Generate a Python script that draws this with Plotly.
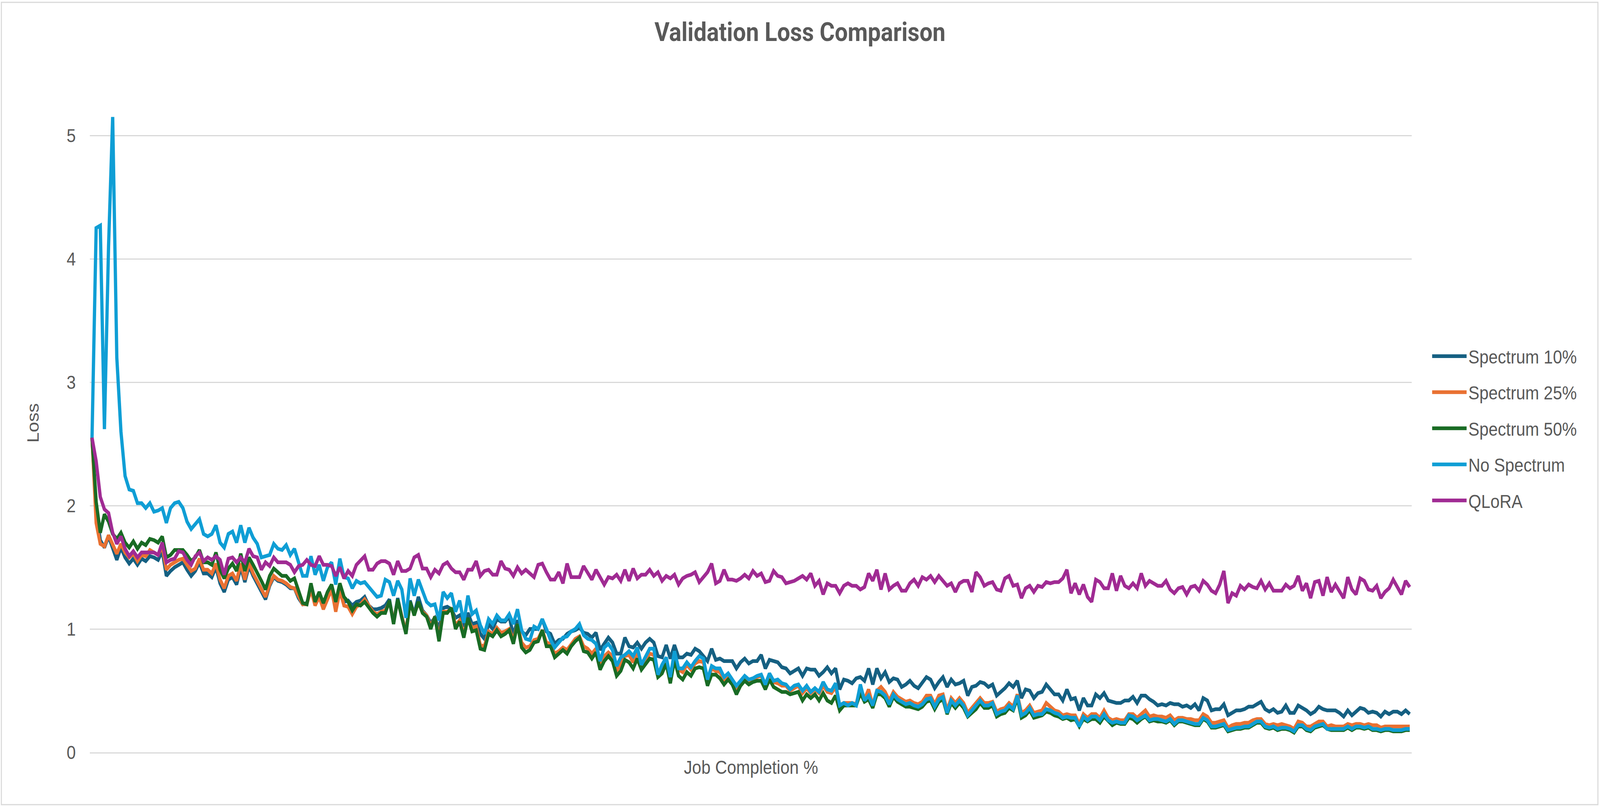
import plotly.graph_objects as go

# ---------------- data ----------------
steps = list(range(1, 321))  # evaluation points along "Job Completion %"

spectrum_10 = [
    2.55, 1.95, 1.72, 1.66, 1.75, 1.66, 1.56, 1.66, 1.58, 1.53,
    1.57, 1.52, 1.57, 1.55, 1.59, 1.58, 1.56, 1.63, 1.43, 1.47,
    1.50, 1.52, 1.54, 1.48, 1.43, 1.47, 1.54, 1.45, 1.45, 1.42,
    1.50, 1.37, 1.30, 1.40, 1.42, 1.36, 1.50, 1.38, 1.51, 1.43,
    1.37, 1.30, 1.24, 1.35, 1.42, 1.39, 1.38, 1.36, 1.33, 1.33,
    1.25, 1.20, 1.21, 1.32, 1.20, 1.28, 1.18, 1.27, 1.33, 1.17,
    1.32, 1.22, 1.23, 1.19, 1.22, 1.23,
    1.26, 1.19, 1.16, 1.16, 1.17, 1.19, 1.24, 1.05, 1.25, 1.10,
    0.98, 1.23, 1.12, 1.26, 1.15, 1.11, 1.05, 1.09, 1.00, 1.17,
    1.18, 1.16, 1.09, 1.11, 1.02, 1.13, 1.04, 1.05, 0.96, 0.92,
    1.04, 1.00, 1.08, 1.06, 1.06, 1.10, 0.95, 1.07, 0.98, 0.95,
    1.00, 1.00, 1.00, 1.08, 0.98, 0.96, 0.88, 0.91, 0.92, 0.96,
    0.98, 0.99, 1.01, 0.97, 0.96, 0.93, 0.97, 0.83, 0.88, 0.93,
    0.89, 0.80,
    0.80, 0.93, 0.86, 0.85, 0.89, 0.84, 0.89, 0.92, 0.89, 0.78,
    0.77, 0.87, 0.76, 0.87, 0.77, 0.77, 0.80, 0.79, 0.84, 0.82,
    0.78, 0.74, 0.84, 0.75, 0.76, 0.74, 0.74, 0.74, 0.68, 0.73,
    0.76, 0.72, 0.74, 0.74, 0.79, 0.68, 0.75, 0.74, 0.73, 0.69,
    0.68, 0.64, 0.66, 0.68, 0.62, 0.68, 0.67, 0.67, 0.62, 0.65,
    0.69, 0.64, 0.68, 0.51, 0.59, 0.58, 0.56, 0.60, 0.61, 0.58,
    0.68, 0.55, 0.68,
    0.60, 0.65, 0.57, 0.60, 0.59, 0.53, 0.55, 0.58, 0.54, 0.52,
    0.56, 0.61, 0.59, 0.52, 0.57, 0.61, 0.53, 0.59, 0.55, 0.56,
    0.58, 0.46, 0.53, 0.54, 0.57, 0.56, 0.53, 0.55, 0.46, 0.49,
    0.52, 0.56, 0.53, 0.58, 0.44, 0.51, 0.50, 0.44, 0.48, 0.49,
    0.55, 0.51, 0.47, 0.47, 0.42, 0.51, 0.43, 0.44, 0.34, 0.44,
    0.38, 0.38, 0.47, 0.44, 0.48, 0.42, 0.41, 0.40, 0.40, 0.42,
    0.42, 0.45, 0.40,
    0.46, 0.46, 0.43, 0.41, 0.38, 0.39, 0.38, 0.40, 0.39, 0.39,
    0.37, 0.38, 0.36, 0.39, 0.34, 0.44, 0.42, 0.34, 0.35, 0.35,
    0.39, 0.30, 0.32, 0.34, 0.34, 0.35, 0.37, 0.37, 0.39, 0.41,
    0.35, 0.33, 0.35, 0.32, 0.33, 0.38, 0.32, 0.32, 0.38, 0.36,
    0.34, 0.31, 0.33, 0.37, 0.35, 0.34, 0.34, 0.34, 0.32, 0.29,
    0.34, 0.30, 0.33, 0.36, 0.35, 0.32, 0.33, 0.32, 0.29, 0.33,
    0.31, 0.33, 0.33, 0.31, 0.34, 0.31,
]

spectrum_25 = [
    2.55, 1.86, 1.69, 1.67, 1.76, 1.69, 1.61, 1.69, 1.62, 1.58,
    1.61, 1.55, 1.60, 1.59, 1.64, 1.62, 1.60, 1.67, 1.48, 1.52,
    1.54, 1.56, 1.57, 1.52, 1.47, 1.49, 1.57, 1.48, 1.48, 1.45,
    1.53, 1.40, 1.33, 1.43, 1.45, 1.39, 1.53, 1.40, 1.54, 1.45,
    1.39, 1.32, 1.26, 1.36, 1.43, 1.40, 1.39, 1.37, 1.34, 1.33,
    1.26, 1.20, 1.20, 1.32, 1.19, 1.26, 1.16, 1.24, 1.32, 1.14,
    1.31, 1.19, 1.18, 1.12, 1.18, 1.20,
    1.24, 1.19, 1.14, 1.12, 1.14, 1.15, 1.22, 1.06, 1.23, 1.10,
    0.98, 1.21, 1.12, 1.21, 1.14, 1.11, 1.02, 1.10, 0.93, 1.14,
    1.14, 1.16, 1.03, 1.07, 0.96, 1.08, 1.01, 1.02, 0.87, 0.86,
    0.98, 0.96, 1.01, 0.97, 0.98, 1.00, 0.91, 1.04, 0.89, 0.85,
    0.86, 0.91, 0.92, 0.99, 0.89, 0.88, 0.80, 0.82, 0.85, 0.83,
    0.88, 0.92, 0.94, 0.86, 0.84, 0.80, 0.84, 0.71, 0.78, 0.81,
    0.78, 0.66,
    0.72, 0.78, 0.79, 0.73, 0.81, 0.70, 0.75, 0.80, 0.79, 0.62,
    0.68, 0.75, 0.58, 0.79, 0.67, 0.65, 0.71, 0.67, 0.72, 0.74,
    0.73, 0.58, 0.68, 0.66, 0.65, 0.59, 0.62, 0.58, 0.52, 0.57,
    0.61, 0.58, 0.59, 0.61, 0.62, 0.54, 0.62, 0.57, 0.56, 0.54,
    0.54, 0.50, 0.52, 0.54, 0.48, 0.52, 0.48, 0.51, 0.48, 0.54,
    0.49, 0.48, 0.53, 0.38, 0.40, 0.40, 0.40, 0.39, 0.53, 0.43,
    0.51, 0.38, 0.50,
    0.53, 0.49, 0.42, 0.49, 0.45, 0.43, 0.41, 0.42, 0.40, 0.39,
    0.41, 0.46, 0.46, 0.39, 0.46, 0.47, 0.34, 0.44, 0.40, 0.44,
    0.40, 0.32, 0.36, 0.39, 0.44, 0.40, 0.40, 0.41, 0.33, 0.35,
    0.36, 0.40, 0.37, 0.47, 0.32, 0.34, 0.38, 0.32, 0.33, 0.34,
    0.40, 0.37, 0.34, 0.33, 0.30, 0.31, 0.30, 0.30, 0.23, 0.31,
    0.28, 0.31, 0.31, 0.28, 0.34, 0.28, 0.26, 0.27, 0.26, 0.26,
    0.31, 0.31, 0.28,
    0.31, 0.34, 0.29, 0.30, 0.29, 0.29, 0.28, 0.30, 0.26, 0.28,
    0.28, 0.27, 0.27, 0.26, 0.26, 0.31, 0.29, 0.24, 0.24, 0.25,
    0.26, 0.20, 0.22, 0.23, 0.23, 0.24, 0.24, 0.26, 0.27, 0.27,
    0.23, 0.22, 0.23, 0.22, 0.23, 0.22, 0.21, 0.19, 0.25, 0.24,
    0.21, 0.21, 0.23, 0.25, 0.25, 0.21, 0.22, 0.21, 0.21, 0.21,
    0.23, 0.22, 0.23, 0.23, 0.22, 0.23, 0.22, 0.22, 0.20, 0.21,
    0.21, 0.21, 0.21, 0.21, 0.21, 0.21,
]

spectrum_50 = [
    2.55, 2.03, 1.78, 1.93, 1.87, 1.77, 1.73, 1.78, 1.70, 1.66,
    1.71, 1.65, 1.70, 1.68, 1.73, 1.72, 1.70, 1.75, 1.58, 1.60,
    1.64, 1.64, 1.64, 1.60, 1.55, 1.58, 1.64, 1.54, 1.54, 1.52,
    1.62, 1.48, 1.41, 1.49, 1.53, 1.47, 1.61, 1.47, 1.58, 1.52,
    1.46, 1.39, 1.32, 1.43, 1.49, 1.46, 1.43, 1.43, 1.39, 1.41,
    1.30, 1.21, 1.20, 1.37, 1.22, 1.30, 1.21, 1.30, 1.36, 1.22,
    1.37, 1.26, 1.22, 1.15, 1.20, 1.19,
    1.22, 1.17, 1.13, 1.10, 1.13, 1.13, 1.23, 1.04, 1.24, 1.09,
    0.96, 1.22, 1.11, 1.22, 1.13, 1.10, 1.00, 1.10, 0.90, 1.13,
    1.13, 1.17, 1.00, 1.06, 0.93, 1.09, 0.98, 0.99, 0.84, 0.83,
    0.96, 0.94, 0.99, 0.94, 0.96, 0.99, 0.88, 1.04, 0.85, 0.81,
    0.83, 0.89, 0.90, 0.99, 0.86, 0.86, 0.77, 0.80, 0.83, 0.80,
    0.86, 0.90, 0.93, 0.82, 0.81, 0.76, 0.81, 0.67, 0.74, 0.78,
    0.74, 0.62,
    0.66, 0.75, 0.73, 0.68, 0.76, 0.67, 0.72, 0.76, 0.75, 0.61,
    0.64, 0.72, 0.56, 0.75, 0.62, 0.59, 0.65, 0.62, 0.68, 0.69,
    0.68, 0.54, 0.63, 0.63, 0.60, 0.55, 0.59, 0.55, 0.47, 0.54,
    0.58, 0.55, 0.57, 0.58, 0.58, 0.51, 0.59, 0.53, 0.51, 0.49,
    0.49, 0.47, 0.48, 0.49, 0.42, 0.47, 0.44, 0.47, 0.42, 0.48,
    0.42, 0.40, 0.46, 0.34, 0.38, 0.38, 0.38, 0.38, 0.48, 0.41,
    0.43, 0.36, 0.47,
    0.47, 0.44, 0.37, 0.45, 0.41, 0.39, 0.37, 0.37, 0.36, 0.35,
    0.37, 0.41, 0.42, 0.35, 0.41, 0.43, 0.31, 0.40, 0.36, 0.40,
    0.36, 0.29, 0.32, 0.35, 0.40, 0.36, 0.36, 0.38, 0.29, 0.31,
    0.32, 0.36, 0.34, 0.44, 0.28, 0.30, 0.34, 0.28, 0.29, 0.30,
    0.33, 0.32, 0.30, 0.29, 0.27, 0.28, 0.26, 0.27, 0.21, 0.27,
    0.25, 0.27, 0.27, 0.24, 0.29, 0.25, 0.22, 0.24, 0.23, 0.23,
    0.28, 0.27, 0.24,
    0.27, 0.29, 0.25, 0.26, 0.25, 0.25, 0.24, 0.26, 0.22, 0.25,
    0.25, 0.24, 0.23, 0.22, 0.22, 0.27, 0.25, 0.20, 0.20, 0.21,
    0.22, 0.17, 0.18, 0.19, 0.19, 0.20, 0.20, 0.22, 0.24, 0.24,
    0.20, 0.19, 0.20, 0.18, 0.19, 0.19, 0.18, 0.16, 0.21, 0.21,
    0.18, 0.17, 0.20, 0.21, 0.22, 0.19, 0.18, 0.18, 0.18, 0.18,
    0.20, 0.18, 0.20, 0.20, 0.19, 0.20, 0.18, 0.18, 0.17, 0.18,
    0.18, 0.17, 0.17, 0.17, 0.18, 0.18,
]

no_spectrum = [
    2.55, 4.25, 4.27, 2.62, 4.10, 5.15, 3.20, 2.60, 2.24, 2.13,
    2.12, 2.02, 2.02, 1.98, 2.02, 1.95, 1.96, 1.98, 1.86, 1.98,
    2.02, 2.03, 1.98, 1.87, 1.81, 1.85, 1.89, 1.77, 1.75, 1.77,
    1.84, 1.70, 1.66, 1.77, 1.79, 1.70, 1.84, 1.70, 1.82, 1.74,
    1.69, 1.58, 1.59, 1.60, 1.69, 1.65, 1.64, 1.68, 1.60, 1.65,
    1.54, 1.43, 1.43, 1.59, 1.44, 1.52, 1.39, 1.50, 1.54, 1.36,
    1.57, 1.42, 1.41, 1.33, 1.39, 1.37,
    1.38, 1.34, 1.30, 1.26, 1.27, 1.40, 1.38, 1.27, 1.39, 1.32,
    1.09, 1.41, 1.27, 1.40, 1.31, 1.22, 1.19, 1.20, 1.07, 1.30,
    1.25, 1.29, 1.14, 1.23, 1.05, 1.27, 1.12, 1.15, 1.03, 0.96,
    1.08, 1.04, 1.11, 1.07, 1.07, 1.12, 1.04, 1.16, 0.99, 0.92,
    0.91, 1.02, 1.00, 1.08, 1.00, 0.91, 0.85, 0.89, 0.93, 0.94,
    0.98, 1.00, 1.04, 0.95, 0.92, 0.91, 0.88, 0.74, 0.85, 0.88,
    0.83, 0.70,
    0.77, 0.79, 0.82, 0.78, 0.85, 0.71, 0.77, 0.84, 0.84, 0.63,
    0.71, 0.77, 0.61, 0.82, 0.68, 0.68, 0.73, 0.69, 0.74, 0.78,
    0.76, 0.59, 0.70, 0.68, 0.68, 0.61, 0.64, 0.59, 0.54, 0.58,
    0.62, 0.59, 0.60, 0.62, 0.63, 0.55, 0.64, 0.58, 0.59, 0.56,
    0.55, 0.51, 0.54, 0.55, 0.50, 0.54, 0.49, 0.52, 0.49, 0.57,
    0.51, 0.50, 0.56, 0.38, 0.40, 0.38, 0.40, 0.38, 0.55, 0.42,
    0.46, 0.38, 0.50,
    0.49, 0.46, 0.39, 0.47, 0.43, 0.41, 0.39, 0.40, 0.38, 0.37,
    0.39, 0.43, 0.44, 0.37, 0.43, 0.45, 0.32, 0.42, 0.38, 0.42,
    0.38, 0.30, 0.34, 0.37, 0.42, 0.38, 0.38, 0.40, 0.31, 0.33,
    0.34, 0.38, 0.35, 0.46, 0.30, 0.32, 0.36, 0.30, 0.31, 0.31,
    0.35, 0.34, 0.32, 0.31, 0.28, 0.29, 0.28, 0.28, 0.21, 0.29,
    0.26, 0.29, 0.29, 0.26, 0.31, 0.26, 0.24, 0.25, 0.24, 0.24,
    0.30, 0.29, 0.26,
    0.28, 0.30, 0.26, 0.27, 0.27, 0.26, 0.25, 0.27, 0.23, 0.26,
    0.26, 0.25, 0.24, 0.23, 0.23, 0.28, 0.26, 0.21, 0.21, 0.22,
    0.23, 0.18, 0.19, 0.20, 0.20, 0.21, 0.21, 0.23, 0.25, 0.25,
    0.21, 0.20, 0.21, 0.19, 0.20, 0.20, 0.19, 0.17, 0.22, 0.22,
    0.19, 0.18, 0.21, 0.22, 0.23, 0.19, 0.19, 0.19, 0.19, 0.19,
    0.21, 0.19, 0.21, 0.21, 0.20, 0.21, 0.19, 0.19, 0.18, 0.19,
    0.19, 0.18, 0.18, 0.18, 0.19, 0.19,
]

qlora = [
    2.55, 2.36, 2.07, 1.97, 1.94, 1.78, 1.69, 1.75, 1.65, 1.59,
    1.63, 1.58, 1.62, 1.62, 1.62, 1.62, 1.60, 1.70, 1.54, 1.56,
    1.57, 1.63, 1.62, 1.56, 1.52, 1.59, 1.62, 1.55, 1.58, 1.56,
    1.59, 1.56, 1.44, 1.57, 1.58, 1.54, 1.58, 1.54, 1.65, 1.59,
    1.58, 1.48, 1.54, 1.51, 1.58, 1.54, 1.54, 1.54, 1.52, 1.46,
    1.51, 1.52, 1.56, 1.52, 1.51, 1.59, 1.52, 1.52, 1.51, 1.43,
    1.50, 1.41, 1.47, 1.43, 1.52, 1.56,
    1.59, 1.48, 1.48, 1.53, 1.55, 1.55, 1.53, 1.44, 1.55, 1.47,
    1.47, 1.49, 1.58, 1.60, 1.49, 1.49, 1.42, 1.48, 1.45, 1.52,
    1.54, 1.49, 1.46, 1.46, 1.40, 1.48, 1.48, 1.55, 1.43, 1.47,
    1.48, 1.44, 1.44, 1.55, 1.49, 1.48, 1.43, 1.50, 1.45, 1.48,
    1.45, 1.42, 1.52, 1.53, 1.46, 1.40, 1.40, 1.46, 1.37, 1.53,
    1.42, 1.42, 1.42, 1.51, 1.46, 1.40, 1.48, 1.42, 1.36, 1.42,
    1.41, 1.44,
    1.39, 1.48, 1.39, 1.49, 1.41, 1.44, 1.44, 1.48, 1.43, 1.46,
    1.39, 1.43, 1.41, 1.44, 1.36, 1.41, 1.43, 1.44, 1.46, 1.38,
    1.42, 1.46, 1.53, 1.37, 1.39, 1.48, 1.40, 1.40, 1.39, 1.41,
    1.44, 1.41, 1.47, 1.43, 1.45, 1.38, 1.39, 1.47, 1.43, 1.42,
    1.37, 1.38, 1.39, 1.41, 1.43, 1.40, 1.45, 1.35, 1.39, 1.28,
    1.37, 1.35, 1.35, 1.29, 1.35, 1.37, 1.35, 1.35, 1.32, 1.34,
    1.45, 1.39, 1.48,
    1.32, 1.45, 1.32, 1.35, 1.37, 1.31, 1.31, 1.37, 1.40, 1.35,
    1.42, 1.40, 1.43, 1.38, 1.43, 1.39, 1.35, 1.37, 1.30, 1.37,
    1.39, 1.39, 1.30, 1.46, 1.42, 1.35, 1.37, 1.38, 1.32, 1.31,
    1.41, 1.43, 1.35, 1.36, 1.25, 1.33, 1.35, 1.30, 1.35, 1.34,
    1.38, 1.37, 1.38, 1.38, 1.41, 1.48, 1.29, 1.37, 1.28, 1.36,
    1.26, 1.22, 1.40, 1.38, 1.33, 1.33, 1.45, 1.31, 1.43, 1.35,
    1.33, 1.37, 1.33,
    1.45, 1.35, 1.39, 1.37, 1.35, 1.35, 1.39, 1.32, 1.29, 1.33,
    1.34, 1.28, 1.34, 1.35, 1.31, 1.39, 1.36, 1.31, 1.29, 1.36,
    1.47, 1.21, 1.29, 1.27, 1.35, 1.32, 1.36, 1.34, 1.33, 1.39,
    1.32, 1.37, 1.31, 1.31, 1.31, 1.36, 1.33, 1.35, 1.43, 1.31,
    1.37, 1.25, 1.38, 1.39, 1.27, 1.42, 1.30, 1.36, 1.30, 1.25,
    1.42, 1.32, 1.28, 1.41, 1.39, 1.32, 1.31, 1.35, 1.25, 1.30,
    1.33, 1.40, 1.34, 1.28, 1.39, 1.34,
]

series_names = ["Spectrum 10%", "Spectrum 25%", "Spectrum 50%", "No Spectrum", "QLoRA"]
series_values = [spectrum_10, spectrum_25, spectrum_50, no_spectrum, qlora]
series_colors = ["#156082", "#E97132", "#196B24", "#0F9ED5", "#A02B93"]
y_ticks = [0, 1, 2, 3, 4, 5]

# ---------------- layout geometry (pixels) ----------------
W, H = 4642, 2067
L, R, T, B = 261, 546, 189, 140
PW, PH = W - L - R, H - T - B


def px_x(px):
    return (px - L) / PW


def px_y(py):
    return (H - B - py) / PH


TEXT = "#595959"
GRID = "#D9D9D9"
FONT = "Liberation Sans, Arial, sans-serif"

fig = go.Figure()
for name, vals, color in zip(series_names, series_values, series_colors):
    fig.add_trace(go.Scatter(
        x=steps[:len(vals)], y=vals, mode="lines", name=name,
        legendgroup=name,
        line=dict(color=color, width=9.5),
    ))

fig.update_layout(
    width=W, height=H,
    margin=dict(l=L, r=R, t=T, b=B, autoexpand=False),
    paper_bgcolor="white", plot_bgcolor="white",
    font=dict(family=FONT, color=TEXT, size=48),
    title=dict(
        text="<b>Validation Loss Comparison</b>",
        x=0.5, xref="container", xanchor="center",
        y=1 - 82 / H, yref="container", yanchor="middle",
        font=dict(family="Roboto, Liberation Sans, sans-serif", size=67, color=TEXT),
    ),
    xaxis=dict(
        range=[0.5, len(steps) + 0.5],
        showticklabels=False, ticks="", showgrid=False, zeroline=False,
        showline=True, linecolor=GRID, linewidth=3,
        fixedrange=True,
    ),
    yaxis=dict(
        range=[0, 5.5], tickmode="array", tickvals=y_ticks,
        ticktext=[str(v) for v in y_ticks],
        showgrid=True, gridcolor=GRID, gridwidth=3,
        zeroline=False, showline=False, ticks="",
        tickfont=dict(size=48, color=TEXT, family=FONT),
        ticklabelstandoff=40,
    ),
    legend=dict(
        x=px_x(4150), xanchor="left",
        y=px_y(1097), yanchor="middle",
        font=dict(size=48, color=TEXT, family=FONT),
        itemwidth=100, tracegroupgap=27,
        bgcolor="rgba(0,0,0,0)",
    ),
    showlegend=True,
    annotations=[
        dict(text="Loss", xref="paper", yref="paper",
             x=px_x(95), y=px_y(1084), xanchor="center", yanchor="middle",
             textangle=-90, showarrow=False,
             font=dict(size=48, color=TEXT, family=FONT)),
        dict(text="Job Completion %", xref="paper", yref="paper",
             x=0.5, y=px_y(1965), xanchor="center", yanchor="middle",
             showarrow=False, font=dict(size=48, color=TEXT, family=FONT)),
    ],
    shapes=[
        dict(type="rect", xref="paper", yref="paper",
             x0=px_x(4), x1=px_x(4636), y0=px_y(2061), y1=px_y(6),
             line=dict(color=GRID, width=3), fillcolor="rgba(0,0,0,0)", layer="below"),
    ],
)

# The browser viewport may be narrower than the requested 4642 px (it is
# clamped), so map the fixed-size figure onto the real viewport.
fit_js = """
(function () {
  var gd = document.getElementById('{plot_id}');
  document.body.style.margin = '0';
  document.documentElement.style.overflow = 'hidden';
  document.body.style.overflow = 'hidden';
  function fit() {
    var sx = window.innerWidth / %d, sy = window.innerHeight / %d;
    if (sx > 0 && sy > 0 && (sx < 1 || sy < 1)) {
      gd.style.transformOrigin = '0 0';
      gd.style.transform = 'scale(' + Math.min(sx, 1) + ',' + Math.min(sy, 1) + ')';
    } else {
      gd.style.transform = 'none';
    }
  }
  fit();
  window.addEventListener('resize', fit);
})();
""" % (W, H)

fig.write_html("out.html", post_script=fit_js, config={"displayModeBar": False})
